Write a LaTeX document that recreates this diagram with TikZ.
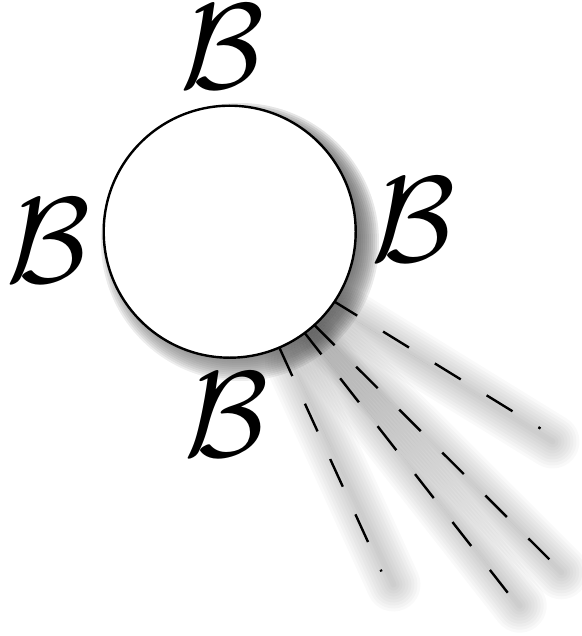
\RequirePackage{fix-cm}
\documentclass[tikz,border=0pt]{standalone}
\usepackage{tikz}

\definecolor{shade}{RGB}{112,120,134}

\begin{document}
\begin{tikzpicture}[x=0.5pt, y=-0.5pt, line width=1.2pt,
    letter/.style={inner sep=0pt, font=\fontsize{61}{63}\selectfont},
    ray/.style={dash pattern=on 15.2pt off 15.2pt},
    rayshade/.style={shade, opacity=0.025, line cap=round}]
  \useasboundingbox (0,0) rectangle (582,636);
  % soft shadow of the ball
  \foreach \k in {0,2,...,24}
    \fill[shade, opacity=0.07] (240,242) circle ({115+\k});
  % shadows of the rays
  \foreach \a/\b/\c/\d in {331.3/299.7/540.5/428.5, 313.1/323.8/549.3/559.3,
                           302.7/330.4/507.7/592.7, 279.7/348.4/381.5/571.5}
    \foreach \w in {3,6,...,27}
      \draw[rayshade, line width=\w pt] (\a+12,\b+13) -- (\c+12,\d+13);
  % dashed rays
  \foreach \a/\b/\c/\d in {331.3/299.7/540.5/428.5, 313.1/323.8/549.3/559.3,
                           302.7/330.4/507.7/592.7, 279.7/348.4/381.5/571.5}
    \draw[ray] (\a,\b) -- (\c,\d);
  % the ball
  \node[draw, circle, fill=white, minimum size=126pt, inner sep=0pt,
        line width=1.2pt] (ball) at (229.7,231.7) {};
  % letters round it
  \node[letter] (btop) at (222,47) {$\mathcal{B}$};
  \node[letter] (bleft) at (48,241) {$\mathcal{B}$};
  \node[letter] (bright) at (413,220) {$\mathcal{B}$};
  \node[letter] (bbottom) at (226,415) {$\mathcal{B}$};
\end{tikzpicture}
\end{document}
